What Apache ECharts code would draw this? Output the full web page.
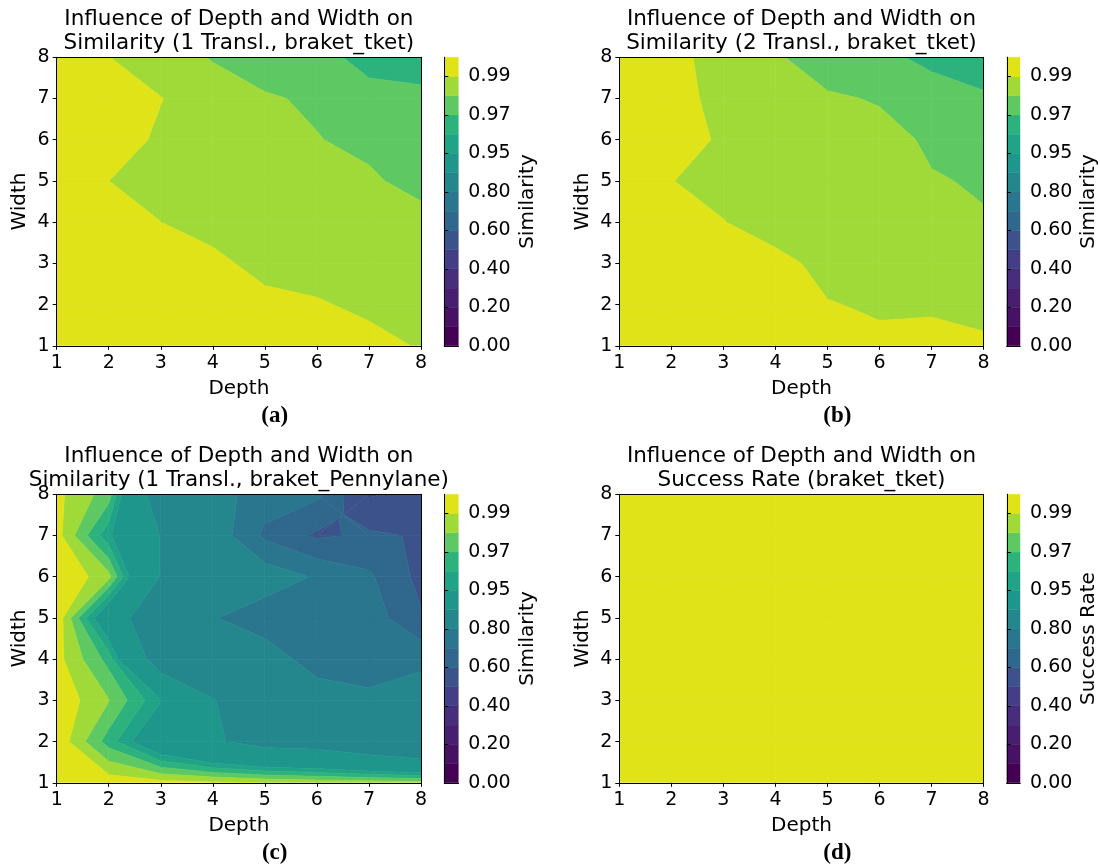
<!DOCTYPE html>
<html>
<head>
<meta charset="utf-8">
<script src="https://cdn.jsdelivr.net/npm/echarts@6/dist/echarts.min.js"></script>
<style>
  html, body { margin: 0; padding: 0; background: #ffffff; }
  #chart { width: 1100px; height: 867px; }
</style>
</head>
<body>
<div id="chart"></div>
<script>
// Grid coordinates
const depths = [1, 2, 3, 4, 5, 6, 7, 8];
const widths = [1, 2, 3, 4, 5, 6, 7, 8];

// Contour levels (15 filled bands) and their colours, lowest band first
const levels = [0, 0.1, 0.2, 0.3, 0.4, 0.5, 0.6, 0.7, 0.8, 0.9, 0.95, 0.96, 0.97, 0.98, 0.99, 1.0];
const bandColors = ['#440154', '#471164', '#481f70', '#472d7b', '#433e85', '#3b528b', '#30678d',
  '#29768e', '#24878e', '#1f968b', '#20a386', '#2db27d', '#5ec962', '#a0da39', '#dfe318'];
// Colourbar ticks sit on these level indices
const colorbarTickIdx = [0, 2, 4, 6, 8, 10, 12, 14];

// Measurements: rows are width 1..8, columns are depth 1..8
const simTket1 = [
  [0.998, 0.998, 0.997, 0.997, 0.996, 0.996, 0.9944, 0.9889],
  [0.998, 0.997, 0.995, 0.995, 0.9938, 0.9913, 0.9871, 0.986],
  [0.998, 0.996, 0.993, 0.9933, 0.9856, 0.984, 0.985, 0.984],
  [0.998, 0.993, 0.99005, 0.985, 0.985, 0.984, 0.983, 0.9828],
  [0.998, 0.99002, 0.987, 0.986, 0.984, 0.983, 0.9812, 0.9773],
  [0.998, 0.9939, 0.9887, 0.986, 0.983, 0.9803, 0.9781, 0.974],
  [0.998, 0.995, 0.99026, 0.985, 0.9808, 0.9789, 0.9705, 0.972],
  [0.997, 0.99015, 0.985, 0.9793, 0.976, 0.9705, 0.9695, 0.966]
];
const simTket2 = [
  [0.998, 0.997, 0.997, 0.996, 0.995, 0.9916, 0.9935, 0.9922],
  [0.998, 0.997, 0.996, 0.995, 0.9904, 0.989, 0.9885, 0.986],
  [0.998, 0.997, 0.994, 0.9925, 0.9875, 0.987, 0.986, 0.984],
  [0.998, 0.995, 0.99026, 0.986, 0.986, 0.985, 0.983, 0.9803],
  [0.998, 0.9902, 0.987, 0.986, 0.985, 0.983, 0.9803, 0.9796],
  [0.998, 0.9963, 0.988, 0.986, 0.983, 0.9816, 0.9793, 0.975],
  [0.998, 0.9947, 0.986, 0.984, 0.9807, 0.9796, 0.9756, 0.972],
  [0.998, 0.9936, 0.985, 0.9807, 0.977, 0.9729, 0.967, 0.962]
];
const simPennylane1 = [
  [1.000, 0.996, 0.994, 0.992, 0.9898, 0.987, 0.986, 0.985],
  [0.9977, 0.9654, 0.930, 0.905, 0.885, 0.880, 0.860, 0.840],
  [0.9977, 0.9805, 0.951, 0.902, 0.870, 0.862, 0.817, 0.856],
  [0.9938, 0.9664, 0.875, 0.860, 0.860, 0.749, 0.760, 0.776],
  [0.998, 0.931, 0.855, 0.8067, 0.740, 0.760, 0.7524, 0.6107],
  [1.000, 0.9836, 0.898, 0.870, 0.860, 0.789, 0.716, 0.571],
  [0.9942, 0.953, 0.899, 0.8705, 0.680, 0.585, 0.6164, 0.5904],
  [0.9927, 0.975, 0.872, 0.845, 0.750, 0.720, 0.490, 0.530]
];
const successTket = [
  [1, 1, 1, 1, 1, 1, 1, 1],
  [1, 1, 1, 1, 1, 1, 1, 1],
  [1, 1, 1, 1, 1, 1, 1, 1],
  [1, 1, 1, 1, 1, 1, 1, 1],
  [1, 1, 1, 1, 1, 1, 1, 1],
  [1, 1, 1, 1, 1, 1, 1, 1],
  [1, 1, 1, 1, 1, 1, 1, 1],
  [1, 1, 1, 1, 1, 1, 1, 1]
];

const panels = [
  { title: 'Influence of Depth and Width on\nSimilarity (1 Transl., braket_tket)', cbarName: 'Similarity', tag: '(a)', z: simTket1, left: 56.7, top: 57.3 },
  { title: 'Influence of Depth and Width on\nSimilarity (2 Transl., braket_tket)', cbarName: 'Similarity', tag: '(b)', z: simTket2, left: 619.3, top: 57.3 },
  { title: 'Influence of Depth and Width on\nSimilarity (1 Transl., braket_Pennylane)', cbarName: 'Similarity', tag: '(c)', z: simPennylane1, left: 56.7, top: 494.3 },
  { title: 'Influence of Depth and Width on\nSuccess Rate (braket_tket)', cbarName: 'Success Rate', tag: '(d)', z: successTket, left: 619.3, top: 494.3 }
];
const PLOT_W = 364.3, PLOT_H = 288.5, CBAR_DX = 387.6, CBAR_W = 14;

// Clip a polygon of [x, y, value] points, keeping where f(point) >= 0 (value linear along edges)
function clipPoly(poly, f) {
  const out = [];
  for (let i = 0; i < poly.length; i++) {
    const a = poly[i], b = poly[(i + 1) % poly.length];
    const fa = f(a), fb = f(b);
    if (fa >= 0) out.push(a);
    if ((fa >= 0) !== (fb >= 0)) {
      const t = fa / (fa - fb);
      out.push([a[0] + t * (b[0] - a[0]), a[1] + t * (b[1] - a[1]), a[2] + t * (b[2] - a[2])]);
    }
  }
  return out;
}
function isSaddle(q, L) {
  const s = q.map(p => p[2] >= L);
  return s[0] === s[2] && s[1] === s[3] && s[0] !== s[1];
}
// Filled-contour polygons for every band, cell by cell
function contourBands(z) {
  const out = [];
  const nb = bandColors.length;
  for (let j = 0; j < widths.length - 1; j++) {
    for (let i = 0; i < depths.length - 1; i++) {
      const q = [
        [depths[i], widths[j], z[j][i]],
        [depths[i + 1], widths[j], z[j][i + 1]],
        [depths[i + 1], widths[j + 1], z[j + 1][i + 1]],
        [depths[i], widths[j + 1], z[j + 1][i]]
      ];
      let pieces = [q];
      if (levels.some(L => isSaddle(q, L))) {
        const c = [
          (q[0][0] + q[2][0]) / 2, (q[0][1] + q[2][1]) / 2,
          (q[0][2] + q[1][2] + q[2][2] + q[3][2]) / 4
        ];
        pieces = [[q[0], q[1], c], [q[1], q[2], c], [q[2], q[3], c], [q[3], q[0], c]];
      }
      for (const piece of pieces) {
        for (let b = 0; b < nb; b++) {
          let p = piece;
          if (b > 0) p = clipPoly(p, v => v[2] - levels[b]);
          if (p.length >= 3 && b < nb - 1) p = clipPoly(p, v => levels[b + 1] - v[2]);
          if (p.length >= 3) out.push({ band: b, pts: p });
        }
      }
    }
  }
  return out;
}

const FONT = 'DejaVu Sans';
const grids = [], xAxes = [], yAxes = [], series = [], graphics = [];
const frameAxis = (extra) => Object.assign({
  type: 'value', z: 10,
  axisLine: { show: true, lineStyle: { color: '#000', width: 1 } },
  axisTick: { show: false }, axisLabel: { show: false }, splitLine: { show: false }
}, extra);

panels.forEach((p, k) => {
  const gPlot = grids.length;
  grids.push({ left: p.left, top: p.top, width: PLOT_W, height: PLOT_H, containLabel: false });
  const gBar = grids.length;
  grids.push({ left: p.left + CBAR_DX, top: p.top, width: CBAR_W, height: PLOT_H, containLabel: false });

  // contour plot axes
  const xi = xAxes.length;
  xAxes.push({
    gridIndex: gPlot, type: 'value', position: 'bottom', min: 1, max: 8, interval: 1, z: 10,
    name: 'Depth', nameLocation: 'middle', nameGap: 33,
    nameTextStyle: { fontFamily: FONT, fontSize: 20, color: '#000' },
    axisLine: { show: true, onZero: false, lineStyle: { color: '#000', width: 1 } },
    axisTick: { show: true, length: 4, lineStyle: { color: '#000', width: 1 } },
    axisLabel: { fontFamily: FONT, fontSize: 19, color: '#000', margin: 8 },
    splitLine: { show: false }
  });
  xAxes.push(frameAxis({ gridIndex: gPlot, position: 'top', min: 1, max: 8 }));
  const yi = yAxes.length;
  yAxes.push({
    gridIndex: gPlot, type: 'value', position: 'left', min: 1, max: 8, interval: 1, z: 10,
    name: 'Width', nameLocation: 'middle', nameGap: 27,
    nameTextStyle: { fontFamily: FONT, fontSize: 20, color: '#000' },
    axisLine: { show: true, onZero: false, lineStyle: { color: '#000', width: 1 } },
    axisTick: { show: true, length: 4, lineStyle: { color: '#000', width: 1 } },
    axisLabel: { fontFamily: FONT, fontSize: 19, color: '#000', margin: 7 },
    splitLine: { show: false }
  });
  yAxes.push(frameAxis({ gridIndex: gPlot, position: 'right', min: 1, max: 8 }));

  const polys = contourBands(p.z);
  series.push({
    type: 'custom', xAxisIndex: xi, yAxisIndex: yi, clip: true, silent: true, animation: false,
    data: polys.map(pl => [pl.pts[0][0], pl.pts[0][1], pl.band]),
    encode: { x: 0, y: 1 },
    renderItem: (params, api) => {
      const pl = polys[params.dataIndex];
      const col = bandColors[pl.band];
      return {
        type: 'polygon',
        shape: { points: pl.pts.map(v => api.coord([v[0], v[1]])) },
        style: { fill: col, stroke: col, lineWidth: 0.6 }
      };
    }
  });

  // colourbar axes
  const cxi = xAxes.length;
  xAxes.push(frameAxis({ gridIndex: gBar, position: 'bottom', min: 0, max: 1 }));
  xAxes.push(frameAxis({ gridIndex: gBar, position: 'top', min: 0, max: 1 }));
  const cyi = yAxes.length;
  yAxes.push({
    gridIndex: gBar, type: 'value', position: 'right', min: 0, max: levels.length - 1, z: 10,
    name: p.cbarName, nameLocation: 'middle', nameGap: 59, nameRotate: 90,
    nameTextStyle: { fontFamily: FONT, fontSize: 20, color: '#000' },
    axisLine: { show: true, lineStyle: { color: '#000', width: 1 } },
    axisTick: { show: true, length: 4, customValues: colorbarTickIdx, lineStyle: { color: '#000', width: 1 } },
    axisLabel: {
      fontFamily: FONT, fontSize: 19, color: '#000', margin: 10, customValues: colorbarTickIdx,
      formatter: v => levels[Math.round(v)].toFixed(2)
    },
    splitLine: { show: false }
  });
  yAxes.push(frameAxis({ gridIndex: gBar, position: 'left', min: 0, max: levels.length - 1 }));

  series.push({
    type: 'custom', xAxisIndex: cxi, yAxisIndex: cyi, silent: true, animation: false,
    data: bandColors.map((c, b) => [0, b, b]),
    encode: { x: 0, y: 1 },
    renderItem: (params, api) => {
      const b = params.dataIndex;
      const p0 = api.coord([0, b]);
      const p1 = api.coord([1, b + 1]);
      return {
        type: 'rect',
        shape: { x: p0[0], y: p1[1], width: p1[0] - p0[0], height: p0[1] - p1[1] },
        style: { fill: bandColors[b], stroke: bandColors[b], lineWidth: 0.5 }
      };
    }
  });

  // two-line title and panel tag
  graphics.push({
    type: 'text', x: p.left + PLOT_W / 2, y: p.top - 25.8, z: 20,
    style: { text: p.title, align: 'center', verticalAlign: 'middle', fontFamily: FONT, fontSize: 21.5, lineHeight: 24.5, fill: '#000' }
  });
  graphics.push({
    type: 'text', x: p.left + 218, y: p.top + PLOT_H + 70, z: 20,
    style: { text: p.tag, align: 'center', verticalAlign: 'middle', fontFamily: 'Liberation Serif', fontWeight: 'bold', fontSize: 23, fill: '#000' }
  });
});

const chart = echarts.init(document.getElementById('chart'), null, { renderer: 'canvas' });
chart.setOption({
  animation: false,
  backgroundColor: '#ffffff',
  grid: grids,
  xAxis: xAxes,
  yAxis: yAxes,
  series: series,
  graphic: graphics
});
</script>
</body>
</html>
